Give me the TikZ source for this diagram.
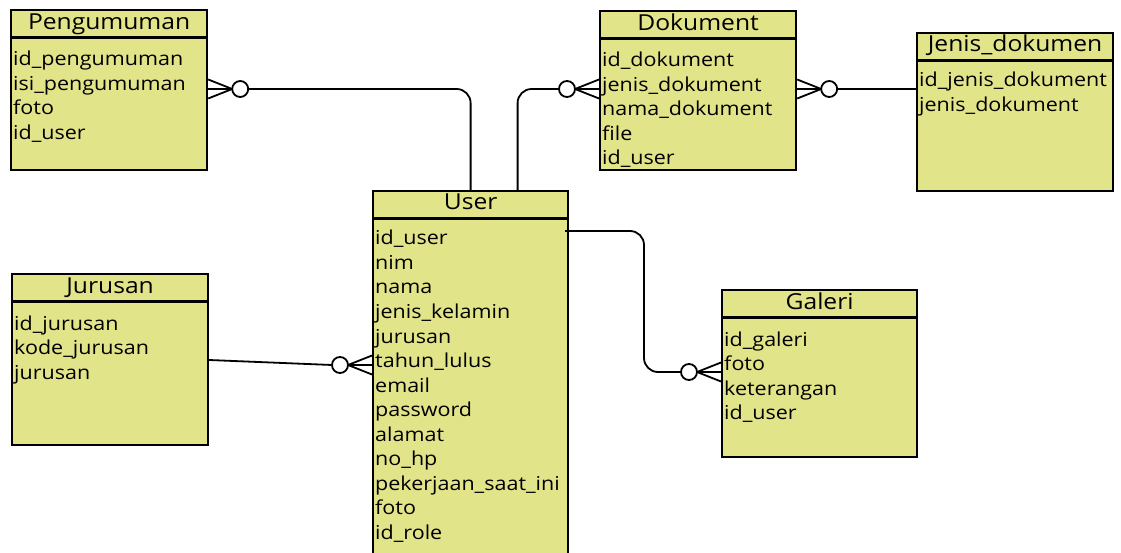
\documentclass[tikz,border=0pt]{standalone}
\usepackage{fontspec}
\setmainfont{Open Sans}
\newfontfamily\entfont[FakeStretch=1.12]{Open Sans}
\usetikzlibrary{positioning}
\definecolor{entfill}{RGB}{226,228,138}

\tikzset{
  entity/.style={draw=black, line width=2.2pt, fill=entfill, minimum width=196pt, inner sep=0pt, anchor=north west},
  enttitle/.style={font=\entfont\fontsize{22}{24}\selectfont, anchor=base, inner sep=0pt},
  attr/.style={font=\entfont\fontsize{19.2}{24}\selectfont, anchor=base west, inner sep=0pt},
  rel/.style={line width=1.8pt, rounded corners=14pt},
  zeromany/.pic={
    \draw[line width=1.8pt] (0,-9.5) -- (24,0) -- (0,9.5) (0,0) -- (24,0);
    \draw[line width=1.8pt, fill=white] (32,0) circle (8);
  }
}

\begin{document}
\begin{tikzpicture}[x=1pt, y=-1pt]
    \useasboundingbox (0,0) rectangle (1121,553);

    % entities
    \node[entity, minimum height=160pt] (peng) at (10,9) {};
    \node[entity, minimum height=159pt] (dok) at (599,10) {};
    \node[entity, minimum height=158pt] (jenis) at (916,32) {};
    \node[entity, minimum height=400pt, minimum width=195pt] (user) at (372,190) {};
    \node[entity, minimum height=171pt] (jur) at (11,273) {};
    \node[entity, minimum height=167pt, minimum width=195pt] (gal) at (721,289) {};

    % header lines
    \foreach \e in {peng, dok, jenis, user, jur, gal}
        \draw[line width=2.2pt] ([yshift=-28.5pt]\e.north west) -- ([yshift=-28.5pt]\e.north east);

    % titles
    \node[enttitle] (peng-t) at ([yshift=-21pt]peng.north) {Pengumuman};
    \node[enttitle] (dok-t) at ([yshift=-21pt]dok.north) {Dokument};
    \node[enttitle] (jenis-t) at ([yshift=-20pt]jenis.north) {Jenis\_dokumen};
    \node[enttitle] (user-t) at ([yshift=-20pt]user.north) {User};
    \node[enttitle] (jur-t) at ([yshift=-21pt]jur.north) {Jurusan};
    \node[enttitle] (gal-t) at ([yshift=-20pt]gal.north) {Galeri};

    % attributes
    \foreach \a [count=\i] in {id\_pengumuman, isi\_pengumuman, foto, id\_user}
        \node[attr] (peng-\i) at ([xshift=3pt, yshift={-57pt-24.5pt*(\i-1)}]peng.north west) {\a};
    \foreach \a [count=\i] in {id\_dokument, jenis\_dokument, nama\_dokument, file, id\_user}
        \node[attr] (dok-\i) at ([xshift=3pt, yshift={-57pt-24.5pt*(\i-1)}]dok.north west) {\a};
    \foreach \a [count=\i] in {id\_jenis\_dokument, jenis\_dokument}
        \node[attr] (jenis-\i) at ([xshift=3pt, yshift={-55pt-24.5pt*(\i-1)}]jenis.north west) {\a};
    \foreach \a [count=\i] in {id\_user, nim, nama, jenis\_kelamin, jurusan, tahun\_lulus, email, password, alamat, no\_hp, pekerjaan\_saat\_ini, foto, id\_role}
        \node[attr] (user-\i) at ([xshift=3pt, yshift={-55pt-24.5pt*(\i-1)}]user.north west) {\a};
    \foreach \a [count=\i] in {id\_jurusan, kode\_jurusan, jurusan}
        \node[attr] (jur-\i) at ([xshift=3pt, yshift={-57pt-24.5pt*(\i-1)}]jur.north west) {\a};
    \foreach \a [count=\i] in {id\_galeri, foto, keterangan, id\_user}
        \node[attr] (gal-\i) at ([xshift=3pt, yshift={-57pt-24.5pt*(\i-1)}]gal.north west) {\a};

    % relations
    \coordinate (pu) at ([yshift=-80pt]peng.north east);
    \pic at (pu) {zeromany};
    \draw[rel] ([xshift=40pt]pu) -| (user.north);

    \coordinate (du) at ([yshift=-79pt]dok.north west);
    \pic[rotate=180] at (du) {zeromany};
    \draw[rel] ([xshift=-40pt]du) -| ([xshift=47pt]user.north);

    \coordinate (dj) at ([yshift=-79pt]dok.north east);
    \pic at (dj) {zeromany};
    \draw[rel] ([xshift=40pt]dj) -- (jenis.west |- dj);

    \coordinate (ju) at ([yshift=-175pt]user.north west);
    \pic[rotate=180] at (ju) {zeromany};
    \draw[rel] ([yshift=-87pt]jur.north east) -- ([xshift=-40pt]ju);

    \coordinate (ug) at ([yshift=-83pt]gal.north west);
    \coordinate (bend) at ([xshift=-77pt]ug);
    \pic[rotate=180] at (ug) {zeromany};
    \draw[rel] ([xshift=-4pt, yshift=-41pt]user.north east) -| (bend) -- ([xshift=-40pt]ug);
\end{tikzpicture}
\end{document}
